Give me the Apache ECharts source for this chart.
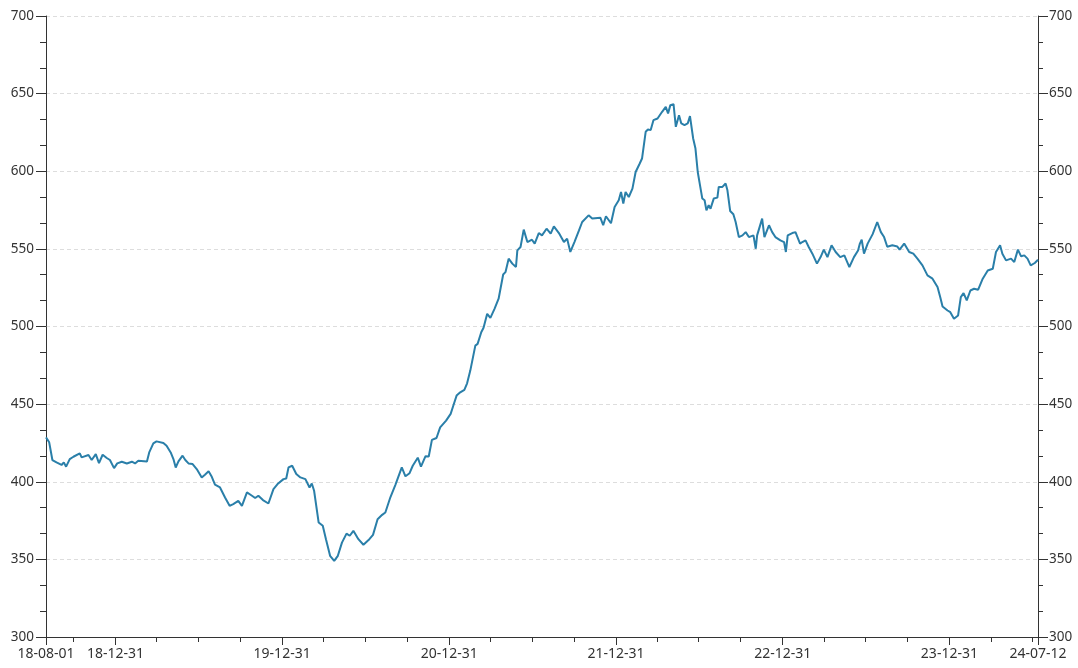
<!DOCTYPE html>
<html>
<head>
<meta charset="utf-8">
<script src="https://cdn.jsdelivr.net/npm/echarts@6/dist/echarts.min.js"></script>
<style>html,body{margin:0;padding:0;background:#fff;}#chart{width:1078px;height:668px;}</style>
</head>
<body>
<div id="chart"></div>
<script>
const dates = [
'2018-08-01','2018-08-08','2018-08-15','2018-08-24','2018-09-04','2018-09-09','2018-09-14','2018-09-22','2018-09-30','2018-10-14',
'2018-10-18','2018-11-02','2018-11-09','2018-11-18','2018-11-25','2018-12-03','2018-12-12','2018-12-19','2018-12-28','2019-01-04',
'2019-01-14','2019-01-25','2019-02-05','2019-02-12','2019-02-19','2019-03-10','2019-03-15','2019-03-24','2019-03-31','2019-04-15',
'2019-04-22','2019-05-01','2019-05-07','2019-05-12','2019-05-18','2019-05-27','2019-06-02','2019-06-09','2019-06-18','2019-06-27',
'2019-07-08','2019-07-15','2019-07-23','2019-07-30','2019-08-06','2019-08-17','2019-08-28','2019-09-07','2019-09-15','2019-09-26',
'2019-10-04','2019-10-15','2019-10-26','2019-11-02','2019-11-09','2019-11-19','2019-12-01','2019-12-12','2019-12-21','2020-01-03',
'2020-01-09','2020-01-14','2020-01-22','2020-01-31','2020-02-09','2020-02-20','2020-02-29','2020-03-05','2020-03-10','2020-03-20',
'2020-03-29','2020-04-05','2020-04-14','2020-04-23','2020-05-01','2020-05-10','2020-05-20','2020-05-27','2020-06-04','2020-06-15',
'2020-06-26','2020-07-09','2020-07-17','2020-07-27','2020-08-06','2020-08-13','2020-08-24','2020-09-04','2020-09-18','2020-09-26',
'2020-10-05','2020-10-12','2020-10-23','2020-10-30','2020-11-09','2020-11-16','2020-11-23','2020-12-03','2020-12-11','2020-12-24',
'2021-01-03','2021-01-10','2021-01-16','2021-01-24','2021-02-02','2021-02-08','2021-02-15','2021-02-26','2021-03-03','2021-03-11',
'2021-03-16','2021-03-24','2021-03-31','2021-04-09','2021-04-18','2021-04-28','2021-05-03','2021-05-10','2021-05-18','2021-05-26',
'2021-05-29','2021-06-05','2021-06-12','2021-06-20','2021-06-30','2021-07-06','2021-07-15','2021-07-22','2021-08-01','2021-08-10',
'2021-08-17','2021-08-28','2021-09-08','2021-09-15','2021-09-22','2021-10-01','2021-10-11','2021-10-18','2021-11-01','2021-11-09',
'2021-11-27','2021-12-03','2021-12-09','2021-12-20','2021-12-28','2022-01-06','2022-01-11','2022-01-16','2022-01-21','2022-01-28',
'2022-02-05','2022-02-12','2022-02-21','2022-02-26','2022-03-06','2022-03-11','2022-03-17','2022-03-23','2022-04-01','2022-04-11',
'2022-04-19','2022-04-24','2022-04-29','2022-05-06','2022-05-11','2022-05-18','2022-05-23','2022-05-30','2022-06-06','2022-06-11',
'2022-06-18','2022-06-23','2022-06-28','2022-07-03','2022-07-08','2022-07-13','2022-07-17','2022-07-22','2022-07-26','2022-08-02',
'2022-08-10','2022-08-13','2022-08-21','2022-08-28','2022-09-01','2022-09-07','2022-09-14','2022-09-19','2022-09-26','2022-10-04',
'2022-10-11','2022-10-18','2022-10-28','2022-11-02','2022-11-05','2022-11-16','2022-11-21','2022-12-01','2022-12-08','2022-12-15',
'2022-12-26','2023-01-03','2023-01-07','2023-01-11','2023-01-21','2023-01-28','2023-02-07','2023-02-12','2023-02-19','2023-02-26',
'2023-03-06','2023-03-16','2023-03-24','2023-03-31','2023-04-08','2023-04-17','2023-04-26','2023-05-06','2023-05-15','2023-05-26',
'2023-06-05','2023-06-14','2023-06-18','2023-06-22','2023-06-27','2023-07-05','2023-07-16','2023-07-26','2023-08-03','2023-08-10',
'2023-08-17','2023-08-28','2023-09-08','2023-09-13','2023-09-23','2023-10-04','2023-10-13','2023-10-22','2023-11-02','2023-11-13',
'2023-11-24','2023-12-05','2023-12-11','2023-12-16','2023-12-27','2024-01-02','2024-01-10','2024-01-19','2024-01-25','2024-01-31',
'2024-02-07','2024-02-15','2024-02-23','2024-03-03','2024-03-13','2024-03-24','2024-04-04','2024-04-11','2024-04-20','2024-04-25',
'2024-05-03','2024-05-14','2024-05-21','2024-05-29','2024-06-05','2024-06-12','2024-06-19','2024-06-26','2024-07-05','2024-07-12'
];
const values = [
428.6,425.4,414.0,412.5,410.8,412.5,409.7,414.6,416.1,418.3,
415.7,417.2,414.0,417.8,412.0,417.4,415.3,414.0,408.8,411.8,
412.9,411.8,412.9,411.8,413.5,413.1,418.9,424.7,426.0,425.0,
423.2,418.9,414.6,409.2,413.1,416.8,414.0,411.8,411.4,408.2,
402.8,404.5,406.7,403.2,398.1,396.3,389.9,384.5,385.6,387.7,
384.5,393.1,391.0,389.5,391.0,388.2,386.0,395.3,398.5,401.7,
402.1,409.2,410.3,405.0,402.8,401.7,396.3,398.9,394.2,373.7,
371.6,363.0,352.3,349.0,352.3,360.8,366.6,365.2,368.4,363.0,
359.4,363.0,365.8,375.9,378.7,380.2,390.0,398.0,409.2,403.5,
405.5,410.3,415.5,409.7,416.5,416.3,427.0,428.2,435.0,439.4,
443.7,450.1,455.5,457.6,459.2,463.4,471.6,487.7,488.8,496.3,
499.2,508.2,505.6,511.4,517.9,533.5,535.0,543.7,540.5,538.3,
549.0,551.2,562.4,554.4,555.9,553.4,560.2,558.7,563.0,559.8,
564.5,560.2,554.4,556.6,548.0,554.4,561.9,567.3,571.6,569.5,
570.0,565.2,571.0,566.5,577.0,581.3,586.6,579.2,586.6,583.4,
588.8,599.5,605.0,608.2,625.4,626.9,626.5,632.9,634.0,638.3,
641.5,637.2,642.6,643.2,628.6,636.1,630.8,629.7,630.8,635.5,
621.1,614.6,599.5,590.9,582.4,581.3,574.8,578.1,575.9,582.4,
583.0,589.9,589.9,592.1,587.7,574.4,572.3,567.3,557.6,558.7,
560.8,557.6,558.7,550.1,558.7,569.5,557.6,565.2,560.8,557.6,
555.5,554.4,548.0,558.7,560.2,560.8,553.4,554.4,555.5,551.2,
546.9,540.5,544.7,549.5,544.7,552.3,548.0,544.7,545.8,538.3,
544.7,549.0,553.4,555.9,546.9,553.4,559.5,567.3,560.8,557.6,
551.4,552.3,551.5,549.5,553.4,548.0,546.9,543.7,539.4,532.9,
530.8,525.4,518.9,512.9,510.3,509.2,505.0,507.1,518.9,521.5,
516.8,523.2,524.3,523.7,530.8,536.1,537.2,548.0,552.3,546.9,
542.6,543.7,541.5,549.5,545.2,545.8,543.7,539.4,540.9,543.0
];
const labelDates = ['2018-08-01','2018-12-31','2019-12-31','2020-12-31','2021-12-31','2022-12-31','2023-12-31','2024-07-12'];
const quarterDates = [
'2018-09-30','2018-12-31','2019-03-31','2019-06-30','2019-09-30','2019-12-31','2020-03-31','2020-06-30','2020-09-30','2020-12-31',
'2021-03-31','2021-06-30','2021-09-30','2021-12-31','2022-03-31','2022-06-30','2022-09-30','2022-12-31','2023-03-31','2023-06-30',
'2023-09-30','2023-12-31','2024-03-31','2024-06-30'
];

function ts(s){const p=s.split('-').map(Number);return Date.UTC(p[0],p[1]-1,p[2]);}
function fmt(v){const d=new Date(v);const p=n=>String(n).padStart(2,'0');return p(d.getUTCFullYear()%100)+'-'+p(d.getUTCMonth()+1)+'-'+p(d.getUTCDate());}

const xMin = ts(labelDates[0]);
const xMax = ts(labelDates[labelDates.length-1]);
const axisColor = '#333';
const font = '"Noto Sans", "Open Sans", sans-serif';

const chart = echarts.init(document.getElementById('chart'), null, {renderer:'canvas'});
chart.setOption({
  animation:false,
  grid:{left:46,right:40,top:16,bottom:31,containLabel:false},
  xAxis:[{
    type:'value', min:xMin, max:xMax, scale:true,
    axisLine:{show:true,onZero:false,lineStyle:{color:axisColor,width:1}},
    axisTick:{show:true,length:8,lineStyle:{color:axisColor},customValues:labelDates.map(ts)},
    axisLabel:{color:'#333',fontSize:14,fontFamily:font,margin:10,customValues:labelDates.map(ts),formatter:fmt,hideOverlap:false,showMinLabel:true,showMaxLabel:true},
    splitLine:{show:false}
  },{
    type:'value', min:xMin, max:xMax, scale:true, position:'bottom',
    axisLine:{show:false,onZero:false},
    axisTick:{show:true,length:5,lineStyle:{color:axisColor},customValues:quarterDates.map(ts)},
    axisLabel:{show:false},
    splitLine:{show:false}
  }],
  yAxis:[{
    type:'value', min:300, max:700, interval:50, position:'left',
    axisLine:{show:true,lineStyle:{color:axisColor}},
    axisTick:{show:true,length:10,lineStyle:{color:axisColor}},
    minorTick:{show:true,splitNumber:3,length:6,lineStyle:{color:axisColor}},
    axisLabel:{color:'#333',fontSize:13.5,fontFamily:font,margin:12},
    splitLine:{show:true,lineStyle:{color:'#ddd',type:[4,3]}}
  },{
    type:'value', min:300, max:700, interval:50, position:'right',
    axisLine:{show:true,lineStyle:{color:axisColor}},
    axisTick:{show:true,length:10,lineStyle:{color:axisColor}},
    minorTick:{show:true,splitNumber:3,length:5,lineStyle:{color:axisColor}},
    axisLabel:{color:'#333',fontSize:13.5,fontFamily:font,margin:11},
    splitLine:{show:false}
  }],
  series:[{
    type:'line',
    xAxisIndex:0, yAxisIndex:0,
    data:dates.map((d,i)=>[ts(d),values[i]]),
    showSymbol:false,
    lineStyle:{color:'#2a7fa9',width:2},
    itemStyle:{color:'#2a7fa9'}
  }]
});
</script>
</body>
</html>
